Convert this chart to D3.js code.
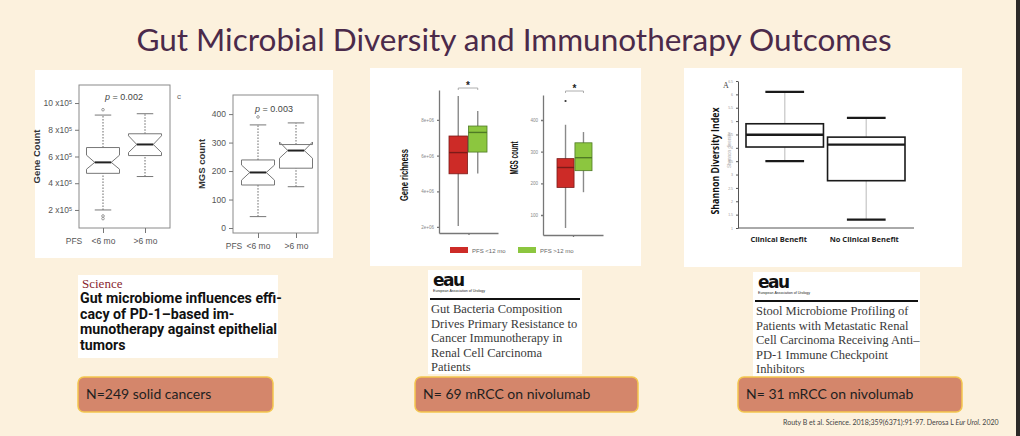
<!DOCTYPE html>
<html>
<head>
<meta charset="utf-8">
<script src="https://cdn.jsdelivr.net/npm/d3@7"></script>
<style>
  body { margin: 0; background: #fcf1dd; }
  svg { display: block; }
</style>
</head>
<body>
<svg id="slide" width="1020" height="436"></svg>
<script>
// ---- data ----
const pfsGroups = ["<6 mo", ">6 mo"];
// [whiskLo, q1, notchLo, median, notchHi, q3, whiskHi]
const geneCountStats = [[2.0, 4.74, 5.05, 5.56, 6.1, 6.67, 9.1], [4.5, 6.07, 6.3, 6.9, 7.55, 7.7, 9.2]]; // x10^5
const geneCountOutliers = [[9.5, 1.55, 1.35], []];
const geneCountTicks = [2, 4, 6, 8, 10];
const mgsStats = [[40, 151, 168, 195, 221, 239, 362], [145, 210, 245, 272, 302, 293, 369]];
const mgsOutliers = [[390], []];
const mgsTicks = [0, 100, 200, 300, 400];
const pValues = ["0.002", "0.003"];

const pfs12Groups = ["PFS <12 mo", "PFS >12 mo"];
// [whiskLo, q1, median, q3, whiskHi]
const richnessStats = [[2.05, 4.98, 6.17, 7.1, 9.35], [5.0, 6.2, 7.3, 7.66, 8.5]]; // x10^6
const richnessTicks = [2, 4, 6, 8];
const mgs12Stats = [[59, 187, 250, 278, 385], [172, 240, 281, 328, 362]];
const mgs12Outliers = [[460], []];
const mgs12Ticks = [100, 200, 300, 400];

const benefitGroups = ["Clinical Benefit", "No Clinical Benefit"];
const shannonStats = [[3.5, 4.03, 4.49, 4.9, 6.09], [1.31, 2.77, 4.12, 4.4, 5.12]];
const shannonTicks = [1, 1.5, 2, 2.5, 3, 3.5, 4, 4.5, 5, 5.5, 6, 6.5];

const studyCards = [
  { source: "Science", lines: ["Gut microbiome influences effi-", "cacy of PD-1\u2013based im-", "munotherapy against epithelial", "tumors"] },
  { source: "eau", lines: ["Gut Bacteria Composition", "Drives Primary Resistance to", "Cancer Immunotherapy in", "Renal Cell Carcinoma", "Patients"] },
  { source: "eau", lines: ["Stool Microbiome Profiling of", "Patients with Metastatic Renal", "Cell Carcinoma Receiving Anti\u2013", "PD-1 Immune Checkpoint", "Inhibitors"] }
];
const cohortLabels = ["N=249 solid cancers", "N= 69 mRCC on nivolumab", "N= 31 mRCC on nivolumab"];

const svg = d3.select("#slide");
svg.append("rect").attr("width", 1020).attr("height", 436).attr("fill", "#fcf1dd");
svg.append("rect").attr("x", 1016).attr("width", 4).attr("height", 436).attr("fill", "#2c2a28");

svg.append("text")
  .attr("x", 514).attr("y", 51)
  .attr("text-anchor", "middle")
  .style("font", "31.5px Lato")
  .attr("fill", "#4b2a4a")
  .text("Gut Microbial Diversity and Immunotherapy Outcomes");

// white figure panels
[[35, 70, 298, 188], [370, 68, 271, 198], [684, 68, 278, 199]].forEach(p => {
  svg.append("rect").attr("x", p[0]).attr("y", p[1]).attr("width", p[2]).attr("height", p[3]).attr("fill", "#fff");
});

// ---------- panel 1: notched R boxplots ----------
function notchedPlot(opt) {
  const g = svg.append("g");
  const y = d3.scaleLinear().domain(opt.domain).range([opt.bottom, opt.top]);
  const x = d3.scalePoint().domain(pfsGroups).range(opt.xs);

  g.append("rect").attr("x", opt.left).attr("y", opt.top)
    .attr("width", opt.right - opt.left).attr("height", opt.bottom - opt.top)
    .attr("fill", "none").attr("stroke", "#8a8a8a");

  const yAxis = g.append("g").attr("transform", `translate(${opt.left},0)`)
    .call(d3.axisLeft(y).tickValues(opt.ticks).tickSize(4).tickFormat(opt.fmt));
  yAxis.select(".domain").remove();
  yAxis.selectAll("line").attr("stroke", "#777");
  yAxis.selectAll("text").style("font", "8.5px 'Liberation Sans'").attr("fill", "#555");
  if (opt.sup) yAxis.selectAll("text").append("tspan").attr("dy", "-0.45em").style("font-size", "5.5px").text("5");

  const xAxis = g.append("g").attr("transform", `translate(0,${opt.bottom})`)
    .call(d3.axisBottom(x).tickSize(5).tickPadding(5));
  xAxis.select(".domain").remove();
  xAxis.selectAll("line").attr("stroke", "#777");
  xAxis.selectAll("text").style("font", "8.5px 'Liberation Sans'").attr("fill", "#555");
  g.append("text").attr("x", opt.pfsX).attr("y", opt.bottom + 16).attr("text-anchor", "middle")
    .style("font", "8.5px 'Liberation Sans'").attr("fill", "#555").text("PFS");

  g.append("text").attr("transform", `translate(${opt.labelX},${(opt.top + opt.bottom) / 2}) rotate(-90)`)
    .attr("text-anchor", "middle").style("font", "bold 9.5px 'Liberation Sans'").attr("fill", "#333").text(opt.label);

  const p = g.append("text").attr("x", opt.pX).attr("y", opt.pY).attr("text-anchor", "middle")
    .style("font", "9px 'Liberation Sans'").attr("fill", "#444");
  p.append("tspan").style("font-style", "italic").text("p");
  p.append("tspan").text(" = " + opt.p);

  const bw = 33;
  opt.stats.forEach((s, i) => {
    const cx = x(pfsGroups[i]);
    const l = cx - bw / 2, r = cx + bw / 2, il = cx - bw / 4, ir = cx + bw / 4;
    [[s[0], s[1]], [s[5], s[6]]].forEach(w => {
      g.append("line").attr("x1", cx).attr("x2", cx).attr("y1", y(w[0])).attr("y2", y(w[1]))
        .attr("stroke", "#666").attr("stroke-dasharray", "1.5,1.5");
    });
    [s[0], s[6]].forEach(v => {
      g.append("line").attr("x1", cx - bw / 4).attr("x2", cx + bw / 4).attr("y1", y(v)).attr("y2", y(v)).attr("stroke", "#777");
    });
    const pts = [[l, s[1]], [l, s[2]], [il, s[3]], [l, s[4]], [l, s[5]], [r, s[5]], [r, s[4]], [ir, s[3]], [r, s[2]], [r, s[1]]];
    g.append("path").attr("d", d3.line()(pts.map(q => [q[0], y(q[1])])) + "Z")
      .attr("fill", "#fff").attr("stroke", "#777");
    g.append("line").attr("x1", il).attr("x2", ir).attr("y1", y(s[3])).attr("y2", y(s[3]))
      .attr("stroke", "#222").attr("stroke-width", 2);
    opt.outliers[i].forEach(v => {
      g.append("circle").attr("cx", cx).attr("cy", y(v)).attr("r", 1.3).attr("fill", "none").attr("stroke", "#999");
    });
  });
}

notchedPlot({ domain: [0.65, 11.35], top: 85, bottom: 228, left: 79, right: 170, xs: [103, 145],
  ticks: geneCountTicks, fmt: d => d + " x10", sup: true, stats: geneCountStats, outliers: geneCountOutliers,
  label: "Gene Count", labelX: 40, pfsX: 74, pX: 124, pY: 100, p: pValues[0] });
notchedPlot({ domain: [-17.5, 467], top: 95, bottom: 233, left: 233, right: 318, xs: [258, 296],
  ticks: mgsTicks, fmt: d3.format("d"), sup: false, stats: mgsStats, outliers: mgsOutliers,
  label: "MGS count", labelX: 205, pfsX: 234, pX: 274, pY: 112, p: pValues[1] });
svg.append("text").attr("x", 177).attr("y", 99).style("font", "8px 'Liberation Sans'").attr("fill", "#666").text("c");

// ---------- panel 2: ggplot boxplots ----------
const boxFill = ["#cd2b27", "#8cc63f"];
const boxStroke = ["#7c1b18", "#4f7a25"];

function ggPlot(opt) {
  const g = svg.append("g");
  const y = d3.scaleLinear().domain(opt.domain).range([opt.bottom, opt.top]);
  const x = d3.scaleBand().domain(pfs12Groups).range(opt.xs).paddingInner(0.05);

  const yAxis = g.append("g").attr("transform", `translate(${opt.left},0)`)
    .call(d3.axisLeft(y).tickValues(opt.ticks).tickSize(2).tickSizeOuter(0).tickFormat(opt.fmt));
  yAxis.selectAll("path,line").attr("stroke", "#777").attr("stroke-width", 1.3);
  yAxis.selectAll("text").style("font", "4.5px 'Liberation Sans'").attr("fill", "#888");

  const xs = d3.scalePoint().domain(["all"]).range([opt.left, opt.right]).padding(0.5);
  const xAxis = g.append("g").attr("transform", `translate(0,${opt.bottom})`)
    .call(d3.axisBottom(xs).tickSize(2).tickSizeOuter(0).tickFormat(""));
  xAxis.selectAll("path,line").attr("stroke", "#777").attr("stroke-width", 1.3);

  g.append("text").attr("transform", `translate(${opt.labelX},${opt.labelY}) rotate(-90)`)
    .attr("text-anchor", "middle").attr("textLength", opt.labelLen).attr("lengthAdjust", "spacingAndGlyphs")
    .style("font", "bold 11px 'Liberation Sans Narrow', 'Liberation Sans'").attr("fill", "#111").text(opt.label);

  opt.stats.forEach((s, i) => {
    const bx = x(pfs12Groups[i]), bw = x.bandwidth(), cx = bx + bw / 2;
    g.append("line").attr("x1", cx).attr("x2", cx).attr("y1", y(s[0])).attr("y2", y(s[4]))
      .attr("stroke", "#8a8a8a").attr("stroke-width", 1.4);
    g.append("rect").attr("x", bx).attr("y", y(s[3])).attr("width", bw).attr("height", y(s[1]) - y(s[3]))
      .attr("fill", boxFill[i]).attr("stroke", boxStroke[i]).attr("stroke-width", 0.8);
    g.append("line").attr("x1", bx).attr("x2", bx + bw).attr("y1", y(s[2])).attr("y2", y(s[2]))
      .attr("stroke", boxStroke[i]).attr("stroke-width", 1.4);
    (opt.outliers ? opt.outliers[i] : []).forEach(v => {
      g.append("circle").attr("cx", cx).attr("cy", y(v)).attr("r", 1.1).attr("fill", "#333");
    });
  });

  // significance bracket
  const c0 = x(pfs12Groups[0]) + x.bandwidth() / 2, c1 = x(pfs12Groups[1]) + x.bandwidth() / 2;
  g.append("path").attr("d", `M${c0},${opt.bracketY + 2}V${opt.bracketY}H${c1}V${opt.bracketY + 2}`)
    .attr("fill", "none").attr("stroke", "#999").attr("stroke-width", 0.8);
  g.append("text").attr("x", (c0 + c1) / 2).attr("y", opt.bracketY + 1).attr("text-anchor", "middle")
    .style("font", "bold 10px 'Liberation Sans'").attr("fill", "#222").text("*");
}

ggPlot({ domain: [1.66, 9.68], top: 90, bottom: 233, left: 439, right: 498, xs: [449, 487],
  ticks: richnessTicks, fmt: d => d + "e+06", stats: richnessStats,
  label: "Gene richness", labelX: 408, labelY: 175, labelLen: 52, bracketY: 88 });
ggPlot({ domain: [36.8, 479], top: 95, bottom: 235, left: 543, right: 603, xs: [557, 592],
  ticks: mgs12Ticks, fmt: d3.format("d"), stats: mgs12Stats, outliers: mgs12Outliers,
  label: "MGS count", labelX: 518, labelY: 158, labelLen: 33, bracketY: 91 });

// legend
pfs12Groups.forEach((name, i) => {
  const lx = [450, 518][i];
  svg.append("rect").attr("x", lx).attr("y", 247).attr("width", 18).attr("height", 6)
    .attr("fill", boxFill[i]);
  svg.append("text").attr("x", lx + 22).attr("y", 252.5).style("font", "6px 'Liberation Sans'")
    .attr("fill", "#666").text(name);
});

// ---------- panel 3: Shannon diversity ----------
{
  const g = svg.append("g");
  const y = d3.scaleLinear().domain([1, 6.5]).range([228, 81]);
  const x = d3.scaleBand().domain(benefitGroups).range([746, 905]).paddingInner(0.05);
  const yAxis = g.append("g").attr("transform", "translate(738,0)")
    .call(d3.axisLeft(y).tickValues(shannonTicks).tickSize(2).tickSizeOuter(0).tickFormat(d3.format("")));
  yAxis.selectAll("path,line").attr("stroke", "#555");
  yAxis.selectAll("text").style("font", "3.5px 'Liberation Sans'").attr("fill", "#999");
  g.append("line").attr("x1", 738).attr("x2", 914).attr("y1", 228).attr("y2", 228).attr("stroke", "#555");

  g.append("text").attr("transform", "translate(719,161) rotate(-90)").attr("text-anchor", "middle")
    .attr("textLength", 107).attr("lengthAdjust", "spacingAndGlyphs")
    .style("font", "bold 10.5px 'Open Sans'").attr("fill", "#111").text("Shannon Diversity Index");
  g.append("text").attr("transform", "translate(731,150) rotate(-90)").attr("text-anchor", "middle")
    .style("font", "4.5px 'Liberation Sans'").attr("fill", "#aaa").text("Shannon diversity");
  g.append("text").attr("x", 723).attr("y", 88).style("font", "8px 'Liberation Serif'").attr("fill", "#444").text("A");

  shannonStats.forEach((s, i) => {
    const bx = x(benefitGroups[i]), bw = x.bandwidth(), cx = bx + bw / 2;
    g.append("line").attr("x1", cx).attr("x2", cx).attr("y1", y(s[0])).attr("y2", y(s[4]))
      .attr("stroke", "#d0d0d0").attr("stroke-width", 1.5);
    [s[0], s[4]].forEach(v => {
      g.append("line").attr("x1", cx - bw / 4).attr("x2", cx + bw / 4).attr("y1", y(v)).attr("y2", y(v))
        .attr("stroke", "#1a1a1a").attr("stroke-width", 2.2);
    });
    g.append("rect").attr("x", bx).attr("y", y(s[3])).attr("width", bw).attr("height", y(s[1]) - y(s[3]))
      .attr("fill", "#fff").attr("stroke", "#1a1a1a").attr("stroke-width", 1.6);
    g.append("line").attr("x1", bx).attr("x2", bx + bw).attr("y1", y(s[2])).attr("y2", y(s[2]))
      .attr("stroke", "#1a1a1a").attr("stroke-width", 2.4);
    g.append("text").attr("x", cx - 6 + i * 4).attr("y", 242).attr("text-anchor", "middle")
      .style("font", "bold 7.5px 'Open Sans'").attr("fill", "#222").text(benefitGroups[i]);
  });
}

// ---------- study cards ----------
const cardBoxes = [[78, 275, 200, 83], [428, 270, 154, 104], [753, 272, 167, 105]];
studyCards.forEach((c, i) => {
  const [bx, by, bw, bh] = cardBoxes[i];
  svg.append("rect").attr("x", bx).attr("y", by).attr("width", bw).attr("height", bh).attr("fill", "#fff");
  if (c.source === "Science") {
    svg.append("text").attr("x", bx + 4).attr("y", by + 13).style("font", "13px 'Liberation Serif'")
      .attr("fill", "#8a1f2f").text("Science");
    c.lines.forEach((t, j) => {
      svg.append("text").attr("x", bx + 2).attr("y", by + 28 + j * 15.5)
        .style("font", "bold 14.2px Roboto").attr("fill", "#111").text(t);
    });
  } else {
    svg.append("text").attr("x", bx + 5).attr("y", by + 16).style("font", "bold 17px 'DejaVu Sans'")
      .attr("letter-spacing", "-1.5").attr("fill", "#111").text("eau");
    svg.append("text").attr("x", bx + 5).attr("y", by + 22).style("font", "3.6px 'Liberation Sans'")
      .attr("fill", "#222").text("European Association of Urology");
    svg.append("line").attr("x1", bx + 2).attr("x2", bx + bw - 2).attr("y1", by + 29).attr("y2", by + 29)
      .attr("stroke", "#111").attr("stroke-width", 2);
    c.lines.forEach((t, j) => {
      svg.append("text").attr("x", bx + 3).attr("y", by + 43 + j * 14.5)
        .style("font", "12.5px 'Liberation Serif'").attr("fill", "#3a3a3a").text(t);
    });
  }
});

// cohort size boxes
const cohortBoxes = [[78, 377, 195, 35], [415, 377, 223, 35], [738, 377, 224, 35]];
cohortLabels.forEach((t, i) => {
  const [bx, by, bw, bh] = cohortBoxes[i];
  svg.append("rect").attr("x", bx).attr("y", by).attr("width", bw).attr("height", bh).attr("rx", 6)
    .attr("fill", "#d4866b").attr("stroke", "#f3c64f").attr("stroke-width", 1.5);
  svg.append("text").attr("x", bx + 8).attr("y", by + 22).style("font", "14px Lato")
    .attr("fill", "#1f1f1f").text(t);
});

const cite = svg.append("text").attr("x", 783).attr("y", 425).style("font", "7px Lato").attr("fill", "#444");
cite.append("tspan").text("Routy B et al. Science. 2018;359(6371):91-97. Derosa L ");
cite.append("tspan").style("font-style", "italic").text("Eur Urol.");
cite.append("tspan").text(" 2020");
</script>
</body>
</html>
